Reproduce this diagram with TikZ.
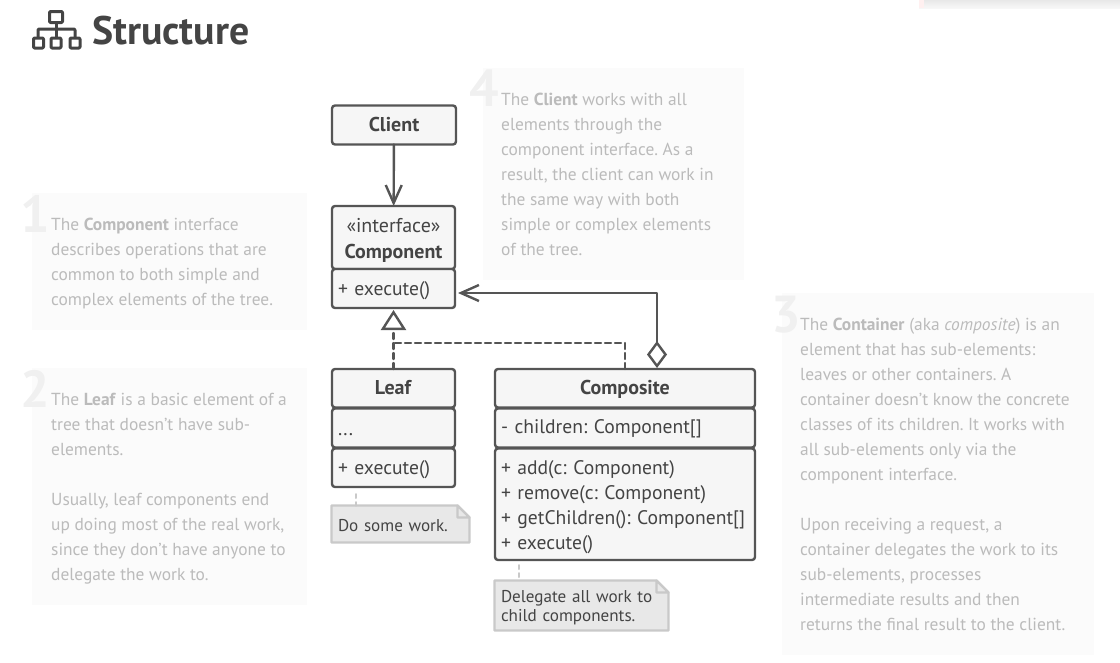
\documentclass[tikz,border=0pt]{standalone}
\usepackage{fontspec}
\setmainfont{PT Sans}
\frenchspacing
\usetikzlibrary{arrows.meta,backgrounds}
\definecolor{inkdark}{HTML}{444444}
\definecolor{boxline}{HTML}{555555}
\definecolor{boxfill}{HTML}{F6F6F6}
\definecolor{panelfill}{HTML}{FBFBFB}
\definecolor{paneltext}{HTML}{BBBBBB}
\definecolor{panelnum}{HTML}{F0F0F0}
\definecolor{notefill}{HTML}{E8E8E8}
\definecolor{noteline}{HTML}{C9C9C9}
\newcommand{\linestrut}{\rule[-5pt]{0pt}{24pt}}
\newcommand{\namestrut}{\rule[-5pt]{0pt}{22pt}}
\tikzset{
	umlbox/.style={draw=boxline,fill=boxfill,line width=2.4pt,rounded corners=3pt,text=inkdark,anchor=north west,outer sep=0pt,inner xsep=6pt,inner ysep=0pt},
	namebox/.style={umlbox,align=center,font=\fontsize{20}{26}\selectfont},
	itembox/.style={umlbox,align=left,font=\fontsize{19.6}{25}\selectfont,execute at begin node=\linestrut},
	panelbox/.style={fill=panelfill,anchor=north west,inner sep=0pt},
	paneltxt/.style={text=paneltext,anchor=north west,inner sep=0pt,align=left,font=\fontsize{17.4}{25}\selectfont},
	panelno/.style={text=panelnum,anchor=base west,inner sep=0pt,font=\fontsize{52}{52}\selectfont\bfseries},
	notebox/.style={anchor=north west,outer sep=0pt,inner xsep=6.5pt,inner ysep=0pt,text=inkdark,align=left,font=\fontsize{17.1}{19}\selectfont,execute at begin node=\rule{0pt}{16pt}},
	notefold/.style={fill=notefill,draw=noteline,line width=2.2pt,line join=round},
	notelink/.style={draw=noteline,line width=2pt,dash pattern=on 4pt off 4pt},
	usesline/.style={draw=boxline,line width=2.4pt,-{Straight Barb[length=18pt,width=16pt,line width=2.4pt]}},
	implline/.style={draw=boxline,line width=2.4pt,dash pattern=on 6pt off 4pt},
	iconline/.style={draw=inkdark,line width=3pt,rounded corners=1pt}
}
\newcommand{\notecorner}[1]{%
	\begin{scope}[on background layer]
	\draw[notefold] (#1.north west) -- ([xshift=-12pt]#1.north east) -- ([yshift=-12pt]#1.north east) -- (#1.south east) -- (#1.south west) -- cycle;
	\draw[notefold] ([xshift=-12pt]#1.north east) -- ([xshift=-12pt,yshift=-12pt]#1.north east) -- ([yshift=-12pt]#1.north east) -- cycle;
	\end{scope}}
\begin{document}
\begin{tikzpicture}[line cap=round,line join=round,x=1pt,y=-1pt]
	\useasboundingbox (0,0) rectangle (1120,662);
	% strip in the top corner
	\fill[top color=black!9,bottom color=black!3] (919,0) rectangle (1120,8);
	\fill[red!6] (919,0) rectangle (924,8);
	% heading
	\draw[iconline] (49.5,11.5) rectangle (62.5,22.5);
	\draw[iconline] (56,23) -- (56,37);
	\draw[iconline] (38,37) -- (38,29) -- (75,29) -- (75,37);
	\draw[iconline] (33.5,38) rectangle (43.5,48);
	\draw[iconline] (51,38) rectangle (61,48);
	\draw[iconline] (70,38) rectangle (80,48);
	\node[text=inkdark,anchor=base west,inner sep=0pt,font=\fontsize{39.8}{40}\selectfont\bfseries] (heading) at (92,44) {Structure};
	% side panels
	\node[panelbox,minimum width=275pt,minimum height=137pt] (panelone) at (32,193) {};
	\node[panelbox,minimum width=275pt,minimum height=237pt] (paneltwo) at (32,368) {};
	\node[panelbox,minimum width=312pt,minimum height=362pt] (panelthree) at (782,293) {};
	\node[panelbox,minimum width=261pt,minimum height=212pt] (panelfour) at (483,68) {};
	\node[panelno] (numone) at (20,232) {1};
	\node[panelno] (numtwo) at (20,407) {2};
	\node[panelno] (numthree) at (771,332) {3};
	\node[panelno] (numfour) at (469,106) {4};
	\node[paneltxt] (textone) at (51,218) {The \textbf{Component} interface\\describes operations that are\\common to both simple and\\complex elements of the tree.};
	\node[paneltxt] (texttwo) at (51,393) {The \textbf{Leaf} is a basic element of a\\tree that doesn’t have sub-\\elements.\\[25pt]Usually, leaf components end\\up doing most of the real work,\\since they don’t have anyone to\\delegate the work to.};
	\node[paneltxt] (textthree) at (800,318) {The \textbf{Container} (aka \textit{composite}) is an\\element that has sub-elements:\\leaves or other containers. A\\container doesn’t know the concrete\\classes of its children. It works with\\all sub-elements only via the\\component interface.\\[25pt]Upon receiving a request, a\\container delegates the work to its\\sub-elements, processes\\intermediate results and then\\returns the final result to the client.};
	\node[paneltxt] (textfour) at (501,93) {The \textbf{Client} works with all\\elements through the\\component interface. As a\\result, the client can work in\\the same way with both\\simple or complex elements\\of the tree.};
	% class boxes
	\node[namebox,minimum width=124pt,minimum height=39pt] (client) at (332,105.5) {\namestrut\textbf{Client}};
	\node[namebox,minimum width=123pt,minimum height=63pt] (componenthead) at (332,206) {\rule{0pt}{19pt}«interface»\\\textbf{Component}};
	\node[itembox,minimum width=123pt,minimum height=39pt,text width=111pt] (componentbody) at (332,269) {+ execute()};
	\node[namebox,minimum width=123pt,minimum height=38.5pt] (leafhead) at (332,369) {\namestrut\textbf{Leaf}};
	\node[itembox,minimum width=123pt,minimum height=39pt,text width=111pt] (leafattr) at (332,408.5) {...};
	\node[itembox,minimum width=123pt,minimum height=38.5pt,text width=111pt] (leafbody) at (332,448.5) {+ execute()};
	\node[namebox,minimum width=260pt,minimum height=38.5pt] (compositehead) at (495,369) {\namestrut\textbf{Composite}};
	\node[itembox,minimum width=260pt,minimum height=39pt,text width=248pt] (compositeattr) at (495,408.5) {\rule[-9pt]{0pt}{1pt}- children: Component[]};
	\node[itembox,minimum width=260pt,minimum height=111.5pt,text width=248pt] (compositebody) at (495,448.5) {+ add(c: Component)\\+ remove(c: Component)\\+ getChildren(): Component[]\\+ execute()};
	% notes
	\node[notebox,minimum width=138pt,minimum height=37pt,text width=125pt] (leafnote) at (331.5,505.5) {Do some work.};
	\node[notebox,minimum width=174pt,minimum height=50pt,text width=161pt] (compositenote) at (494.5,580.5) {Delegate all work to\\child components.};
	\notecorner{leafnote}
	\notecorner{compositenote}
	\coordinate (leaflink) at (356,494);
	\coordinate (compositelink) at (519,565);
	\draw[notelink] (leaflink) -- (leaflink |- leafnote.north);
	\draw[notelink] (compositelink) -- (compositelink |- compositenote.north);
	% connectors
	\coordinate (ownerstart) at (657,368);
	\coordinate (ownerend) at (458,293);
	\draw[usesline] (client) -- (componenthead);
	\draw[implline,-{Triangle[open,length=20pt,width=25pt,fill=white,line width=2.4pt]},shorten >=2pt] (leafhead) -- (componentbody);
	\draw[implline] (compositehead) |- (393.5,343);
	\draw[usesline,{Diamond[open,length=27pt,width=20pt,fill=white,line width=2.4pt]}-{Straight Barb[length=18pt,width=16pt,line width=2.4pt]}] (ownerstart) |- (ownerend);
\end{tikzpicture}
\end{document}
